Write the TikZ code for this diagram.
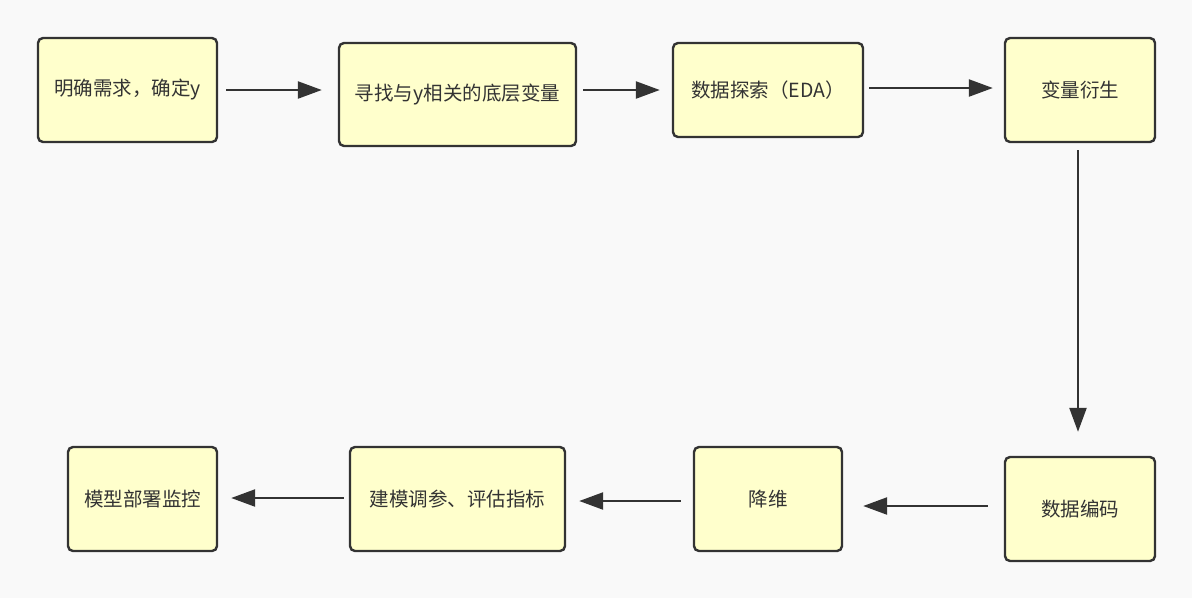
\documentclass[tikz,border=0pt]{standalone}
\usepackage{fontspec}
\setmainfont{Noto Sans CJK SC}
\usetikzlibrary{arrows.meta,calc}
\definecolor{bg}{HTML}{F9F9F9}
\definecolor{boxfill}{HTML}{FFFFCC}
\definecolor{ink}{HTML}{333333}
\begin{document}
\begin{tikzpicture}[x=1pt,y=-1pt,
  stepbox/.style={draw=ink,fill=boxfill,line width=2.4pt,rounded corners=5pt,
    minimum height=104pt,inner sep=0pt,text=ink,font=\fontsize{19.5}{23}\selectfont},
  arr/.style={draw=ink,line width=2.4pt,-{Triangle[length=24pt,width=17pt]}}]
\fill[bg] (0,0) rectangle (1192,598);
\useasboundingbox (0,0) rectangle (1192,598);
\node[stepbox,minimum width=179pt] (n1) at (127.5,90) {明确需求，确定y};
\node[stepbox,minimum width=237pt,minimum height=103pt] (n2) at (457.5,94.5) {寻找与y相关的底层变量};
\node[stepbox,minimum width=190pt,minimum height=94pt] (n3) at (768,90) {数据探索（EDA）};
\node[stepbox,minimum width=150pt] (n4) at (1080,90) {变量衍生};
\node[stepbox,minimum width=150pt] (n5) at (1080,509) {数据编码};
\node[stepbox,minimum width=148pt] (n6) at (768,499) {降维};
\node[stepbox,minimum width=215pt] (n7) at (457.5,499) {建模调参、评估指标};
\node[stepbox,minimum width=149pt] (n8) at (142.5,499) {模型部署监控};
\draw[arr] ($(n1.east)+(8,0)$) -- ($(n2.west)+(-16,-4.5)$);
\draw[arr] ($(n2.east)+(6,-4.5)$) -- ($(n3.west)+(-12,0)$);
\draw[arr] ($(n3.east)+(5,-2)$) -- ($(n4.west)+(-11,-2)$);
\draw[arr] ($(n4.south)+(-2,7)$) -- ($(n5.north)+(-2,-24)$);
\draw[arr] ($(n5.west)+(-16,-3)$) -- ($(n6.east)+(20,7)$);
\draw[arr] ($(n6.west)+(-12,2)$) -- ($(n7.east)+(13,2)$);
\draw[arr] ($(n7.west)+(-5,-1)$) -- ($(n8.east)+(13,-1)$);
\end{tikzpicture}
\end{document}
